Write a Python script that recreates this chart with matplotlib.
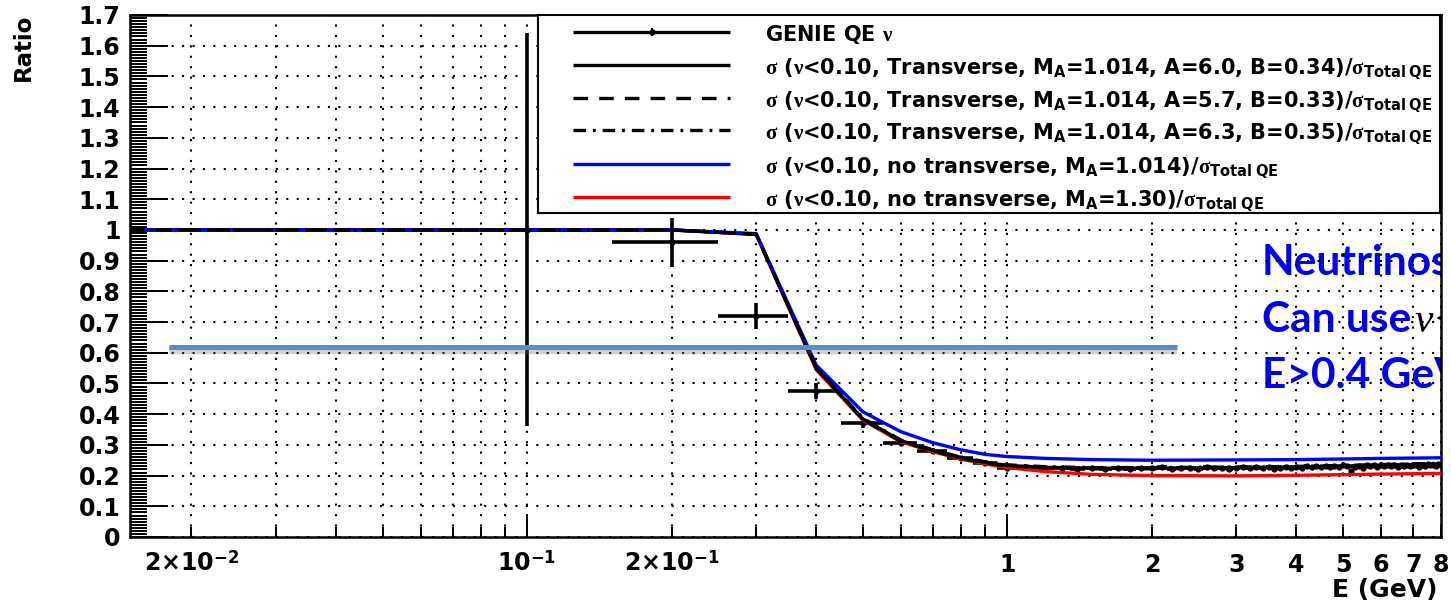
import matplotlib
matplotlib.use("Agg")
import matplotlib.pyplot as plt
import matplotlib.patheffects as pe
from matplotlib.ticker import MultipleLocator, FuncFormatter

plt.rcParams['font.family'] = ['DejaVu Sans']
plt.rcParams['font.weight'] = 'bold'
plt.rcParams['mathtext.fontset'] = 'custom'
plt.rcParams['mathtext.rm'] = 'Liberation Serif'
plt.rcParams['mathtext.it'] = 'Liberation Serif:italic'
plt.rcParams['mathtext.bf'] = 'DejaVu Sans:bold'
plt.rcParams['mathtext.sf'] = 'DejaVu Sans:bold'
plt.rcParams['lines.scale_dashes'] = False

# ---------------- data ----------------
# GENIE QE nu ratio (bin centres, 0.1 GeV bins)
genie_E = [0.1, 0.2, 0.3, 0.4, 0.5, 0.6, 0.7, 0.8, 0.9,
           1.0, 1.1, 1.2, 1.3, 1.4, 1.5, 1.6, 1.7, 1.8, 1.9,
           2.0, 2.1, 2.2, 2.3, 2.4, 2.5, 2.6, 2.7, 2.8, 2.9,
           3.0, 3.1, 3.2, 3.3, 3.4, 3.5, 3.6, 3.7, 3.8, 3.9,
           4.0, 4.1, 4.2, 4.3, 4.4, 4.5, 4.6, 4.7, 4.8, 4.9,
           5.0, 5.1, 5.2, 5.3, 5.4, 5.5, 5.6, 5.7, 5.8, 5.9,
           6.0, 6.1, 6.2, 6.3, 6.4, 6.5, 6.6, 6.7, 6.8, 6.9,
           7.0, 7.1, 7.2, 7.3, 7.4, 7.5, 7.6, 7.7, 7.8, 7.9, 8.0]
genie_ratio = [1.00, 0.96, 0.72, 0.475, 0.370, 0.307, 0.280, 0.256, 0.240,
               0.226, 0.228, 0.224, 0.226, 0.222, 0.225, 0.223, 0.226, 0.221, 0.225,
               0.224, 0.227, 0.223, 0.226, 0.225, 0.221, 0.227, 0.224, 0.226, 0.222,
               0.225, 0.228, 0.224, 0.227, 0.225, 0.229, 0.222, 0.226, 0.228, 0.225,
               0.229, 0.226, 0.230, 0.227, 0.231, 0.228, 0.232, 0.229, 0.231, 0.227,
               0.233, 0.230, 0.216, 0.229, 0.232, 0.224, 0.233, 0.230, 0.234, 0.229,
               0.233, 0.231, 0.235, 0.230, 0.234, 0.229, 0.235, 0.232, 0.236, 0.231,
               0.235, 0.233, 0.229, 0.236, 0.232, 0.237, 0.233, 0.236, 0.231, 0.237, 0.235]
genie_err_low = [0.64, 0.08, 0.042, 0.027, 0.016, 0.012, 0.010, 0.009, 0.008]
genie_err_tail = 0.006
genie_bin_half = 0.05

# model curves
curve_E = [0.0149, 0.1, 0.2, 0.3, 0.4, 0.5, 0.6, 0.7, 0.8, 0.9, 1.0,
           1.2, 1.5, 2.0, 3.0, 4.0, 5.0, 6.0, 7.0, 8.0]
trans_A60 = [1.0, 1.0, 1.0, 0.986, 0.550, 0.385, 0.314, 0.282, 0.258, 0.243, 0.233,
             0.227, 0.224, 0.224, 0.226, 0.228, 0.231, 0.234, 0.236, 0.238]
trans_A57 = [1.0, 1.0, 1.0, 0.986, 0.548, 0.383, 0.312, 0.280, 0.256, 0.241, 0.231,
             0.225, 0.222, 0.222, 0.224, 0.226, 0.229, 0.232, 0.234, 0.236]
trans_A63 = [1.0, 1.0, 1.0, 0.986, 0.552, 0.387, 0.316, 0.284, 0.260, 0.245, 0.235,
             0.229, 0.226, 0.226, 0.228, 0.230, 0.233, 0.236, 0.238, 0.240]
notrans_MA1014 = [1.0, 1.0, 1.0, 0.988, 0.560, 0.408, 0.343, 0.307, 0.284, 0.269, 0.262,
                  0.256, 0.252, 0.250, 0.251, 0.252, 0.254, 0.256, 0.257, 0.258]
notrans_MA130 = [1.0, 1.0, 1.0, 0.985, 0.545, 0.381, 0.310, 0.278, 0.254, 0.238, 0.226,
                 0.213, 0.204, 0.200, 0.199, 0.201, 0.203, 0.205, 0.206, 0.207]

# annotation line (ratio level marker)
marker_level = 0.62
marker_E = [0.018, 2.26]

legend_labels = [
    r"GENIE QE $\mathrm{\nu}$",
    r"$\mathrm{\sigma}$ ($\mathrm{\nu}$<0.10, Transverse, M$_{\mathbf{A}}$=1.014, A=6.0, B=0.34)/$\mathrm{\sigma}_{\mathbf{Total\ QE}}$",
    r"$\mathrm{\sigma}$ ($\mathrm{\nu}$<0.10, Transverse, M$_{\mathbf{A}}$=1.014, A=5.7, B=0.33)/$\mathrm{\sigma}_{\mathbf{Total\ QE}}$",
    r"$\mathrm{\sigma}$ ($\mathrm{\nu}$<0.10, Transverse, M$_{\mathbf{A}}$=1.014, A=6.3, B=0.35)/$\mathrm{\sigma}_{\mathbf{Total\ QE}}$",
    r"$\mathrm{\sigma}$ ($\mathrm{\nu}$<0.10, no transverse, M$_{\mathbf{A}}$=1.014)/$\mathrm{\sigma}_{\mathbf{Total\ QE}}$",
    r"$\mathrm{\sigma}$ ($\mathrm{\nu}$<0.10, no transverse, M$_{\mathbf{A}}$=1.30)/$\mathrm{\sigma}_{\mathbf{Total\ QE}}$",
]

x_major = [0.1, 1.0]
x_major_labels = [r"10$^{\mathbf{-1}}$", "1"]
x_minor = [0.02, 0.03, 0.04, 0.05, 0.06, 0.07, 0.08, 0.09,
           0.2, 0.3, 0.4, 0.5, 0.6, 0.7, 0.8, 0.9,
           2, 3, 4, 5, 6, 7, 8]
x_minor_labels = [r"2×10$^{\mathbf{-2}}$", "", "", "", "", "", "", "",
                  r"2×10$^{\mathbf{-1}}$", "", "", "", "", "", "", "",
                  "2", "3", "4", "5", "6", "7", "8"]

# ---------------- figure ----------------
W, H = 1451, 604
fig = plt.figure(figsize=(W / 100, H / 100), dpi=100)
ax = fig.add_axes([130 / W, (H - 537) / H, (1441 - 130) / W, (537 - 15) / H])

ax.set_xscale('log')
ax.set_xlim(0.0149, 8.0)
ax.set_ylim(0, 1.7)

# ticks and grid
ax.set_xticks(x_major, x_major_labels)
ax.set_xticks(x_minor, x_minor_labels, minor=True)
ax.yaxis.set_major_locator(MultipleLocator(0.1))
ax.yaxis.set_minor_locator(MultipleLocator(0.01))
ax.yaxis.set_major_formatter(FuncFormatter(lambda v, p: f"{round(v, 1):g}"))
grid_ls = (0, (1.5, 6.0))
ax.grid(True, which='both', axis='x', color='black', linestyle=grid_ls, linewidth=1.5)
ax.grid(True, which='major', axis='y', color='black', linestyle=grid_ls, linewidth=1.5)

ax.tick_params(axis='both', which='both', direction='in', labelsize=17, width=1.4)
ax.tick_params(axis='x', which='major', length=15, pad=25)
ax.tick_params(axis='x', which='minor', length=7, pad=25)
ax.tick_params(axis='y', which='major', length=27, pad=7)
ax.tick_params(axis='y', which='minor', length=12)
for lab in ax.get_xticklabels(which='both'):
    lab.set_verticalalignment('baseline')
for s in ax.spines.values():
    s.set_linewidth(1.8)

# GENIE points
genie_err = genie_err_low + [genie_err_tail] * (len(genie_E) - len(genie_err_low))
ax.errorbar(genie_E, genie_ratio, yerr=genie_err, xerr=genie_bin_half,
            fmt='o', color='black', markersize=3.5, elinewidth=2.6, capsize=0,
            zorder=3)

lw = 2.4
dash_ls = (0, (10.5, 8.0))
dashdot_ls = (0, (9, 5, 2, 5))
ax.plot(curve_E, notrans_MA130, color='#ff0000', lw=lw, zorder=3.1)
ax.plot(curve_E, trans_A60, color='black', lw=lw, zorder=3.2)
ax.plot(curve_E, notrans_MA1014, color='#0000ff', lw=lw, zorder=3.3)
ax.plot(curve_E, trans_A57, color='black', lw=lw, linestyle=dash_ls, zorder=3.4)
ax.plot(curve_E, trans_A63, color='black', lw=lw, linestyle=dashdot_ls, zorder=3.5)

# steel-blue level line with shadow
ax.plot(marker_E, [marker_level, marker_level], color='#5b8dc9', lw=3.6, zorder=4,
        solid_capstyle='butt',
        path_effects=[pe.SimpleLineShadow(offset=(0, -2.5), shadow_color='#666666', alpha=0.3, linewidth=6),
                      pe.Normal()])

# axis titles
fig.text(1437 / W, 1 - 590 / H, "E (GeV)", ha='right', va='center', fontsize=18)
fig.text(23 / W, 1 - 14 / H, "Ratio", rotation=90, ha='center', va='top', fontsize=16.5)

# blue annotation text (overlaid on the frame and cut at its right edge, as in the original slide)
blue_kw = dict(color='#0000ff', fontsize=30.5, family='Lato', weight='bold', va='baseline',
               zorder=1, transform=fig.transFigure, clip_on=True)
ax.text(1262 / W, 1 - 275 / H, "Neutrinos", **blue_kw)
ax.text(1262 / W, 1 - 332 / H, "Can use", **blue_kw)
ax.text(1414 / W, 1 - 332 / H, "ν<0.1", color='black', fontsize=30,
        family='Liberation Serif', style='italic', weight='normal', va='baseline',
        zorder=1, transform=fig.transFigure, clip_on=True)
ax.text(1262 / W, 1 - 388 / H, "E>0.4 GeV", **blue_kw)

# ---------------- legend box ----------------
lx0, lx1, ly0, ly1 = 538, 1440, 15, 213
lax = fig.add_axes([lx0 / W, 1 - ly1 / H, (lx1 - lx0) / W, (ly1 - ly0) / H], zorder=5)
lax.set_xlim(0, lx1 - lx0)
lax.set_ylim(ly1 - ly0, 0)
lax.set_xticks([])
lax.set_yticks([])
for s in lax.spines.values():
    s.set_linewidth(1.5)
row_y = [17, 50, 83, 115, 149, 182]
hx0, hx1, tx = 35, 192, 227
styles = [
    dict(color='black', lw=lw),
    dict(color='black', lw=lw),
    dict(color='black', lw=lw, linestyle=dash_ls),
    dict(color='black', lw=lw, linestyle=dashdot_ls),
    dict(color='#0000ff', lw=lw),
    dict(color='#ff0000', lw=lw),
]
for y, lab, st in zip(row_y, legend_labels, styles):
    lax.plot([hx0, hx1], [y, y], solid_capstyle='butt', **st)
    lax.text(tx, y, lab, va='center_baseline', ha='left', fontsize=15)
lax.plot([(hx0 + hx1) / 2], [row_y[0]], 'o', color='black', markersize=3.5)
lax.plot([(hx0 + hx1) / 2] * 2, [row_y[0] - 3, row_y[0] + 3], color='black', lw=1.5)

fig.savefig("out.png", dpi=100)
